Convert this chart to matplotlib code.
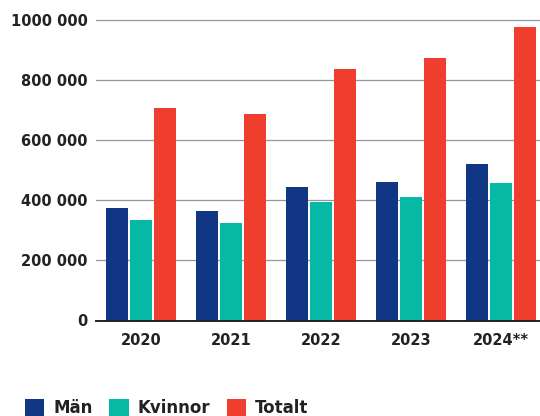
import numpy as np
import matplotlib
matplotlib.use("Agg")
import matplotlib.pyplot as plt
from matplotlib.patches import Patch

# Antal personer per år, uppdelat på kön
years = ["2020", "2021", "2022", "2023", "2024**"]
man = [375000, 365000, 445000, 461000, 521000]
kvinnor = [335000, 325000, 395000, 411000, 458000]
totalt = [708000, 688000, 838000, 874000, 978000]

series_names = ["Män", "Kvinnor", "Totalt"]
colors = ["#103684", "#05b9a5", "#ef3e2e"]

yticks = [0, 200000, 400000, 600000, 800000, 1000000]
ytick_labels = ["0", "200 000", "400 000", "600 000", "800 000", "1000 000"]

text_color = "#222222"

fig = plt.figure(figsize=(5.4, 4.16), dpi=100)
ax = fig.add_axes([96 / 540, 95.5 / 416, 1 - 96 / 540, (402 - 95.5) / 416])

x = np.arange(len(years))
w = 22 / 90
step = 24 / 90
for i, vals in enumerate([man, kvinnor, totalt]):
    ax.bar(x + (i - 1) * step, vals, width=w, color=colors[i], zorder=3,
           label=series_names[i])

ax.set_xlim(-0.5, (540 - 141) / 90)
ax.set_ylim(0, (320.5 - 14) / 300.2 * 1e6)

ax.set_yticks(yticks)
ax.set_yticklabels(ytick_labels)
ax.set_xticks(x)
ax.set_xticklabels(years)

ax.tick_params(axis="y", length=0, pad=6, labelsize=10.5, labelcolor=text_color)
ax.tick_params(axis="x", length=0, pad=9, labelsize=10.5, labelcolor=text_color)
for lab in ax.get_xticklabels() + ax.get_yticklabels():
    lab.set_fontweight("bold")

ax.grid(axis="y", color="#97979b", linewidth=0.9, zorder=0)
ax.grid(axis="x", visible=False)
for s in ["top", "right", "left"]:
    ax.spines[s].set_visible(False)
ax.spines["bottom"].set_color(text_color)
ax.spines["bottom"].set_linewidth(1.4)
ax.spines["bottom"].set_zorder(4)

# legend along the bottom edge
handles = [Patch(facecolor=c, edgecolor="none") for c in colors]
fig.legend(handles, series_names, loc="upper left", ncol=3, frameon=False,
           bbox_to_anchor=(25 / 540, 17 / 416), borderaxespad=0, borderpad=0,
           handlelength=1.15, handleheight=1.15, handletextpad=0.55,
           columnspacing=1.0, prop={"size": 12, "weight": "bold"},
           labelcolor=text_color)

fig.savefig("out.png", dpi=100)
